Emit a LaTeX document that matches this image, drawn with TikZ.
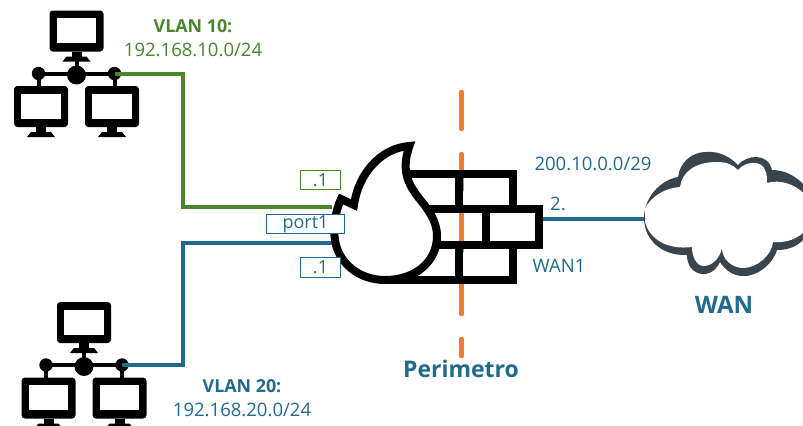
\documentclass[tikz,border=0pt]{standalone}
\usepackage{fontspec}
\setmainfont{Open Sans}
\definecolor{vgreen}{HTML}{4A852C}
\definecolor{vblue}{HTML}{1F6A8E}
\definecolor{vorange}{HTML}{ED7D31}
\definecolor{cloudc}{HTML}{3A444C}
\tikzset{
  x=0.75pt,y=-0.75pt,
  link/.style={line width=3pt,line join=miter},
  tag/.style={draw,fill=white,line width=0.9pt,inner sep=0pt,text=vblue,font=\fontsize{13.5}{15}\selectfont},
  lbl/.style={inner sep=0pt,font=\fontsize{13.9}{16}\selectfont},
  lblb/.style={inner sep=0pt,font=\fontsize{13.4}{16}\selectfont\bfseries},
  big/.style={inner sep=0pt,font=\fontsize{17.2}{20}\selectfont\bfseries,text=vblue},
  wall/.style={line width=6pt,line join=miter,draw=black},
  perim/.style={vorange,line width=3.4pt,line cap=round},
  hub/.style={circle,fill=black,inner sep=0pt,minimum size=14.2pt},
  dot/.style={circle,fill=black,inner sep=0pt,minimum size=10pt},
  icon/.pic={
    \foreach \mx/\my in {0/-43.5, -35.5/32, 35.5/32}{
      \fill[black,rounded corners=2.5pt] (\mx-27,\my-21) rectangle (\mx+27,\my+20);
      \fill[white] (\mx-19.7,\my-13.5) rectangle (\mx+19.7,\my+11.5);
      \fill[black] (\mx-5,\my+20) rectangle (\mx+5,\my+25);
      \fill[black] (\mx-10,\my+25) -- (\mx+10,\my+25) -- (\mx+14,\my+30) -- (\mx-14,\my+30) -- cycle;
    }
    \draw[black,line width=3pt] (0,-18) -- (0,0) (-38,-1.5) -- (38,-1.5) (-38,-1.5) -- (-38,12) (38,-1.5) -- (38,12);
    \node[hub] (-c) at (0,0) {};
    \node[dot] (-l) at (-38,-1.5) {};
    \node[dot] (-r) at (38,-1.5) {};
  }
}
\begin{document}
\begin{tikzpicture}
\useasboundingbox (0,0) rectangle (803,425);
\clip (0,0) rectangle (803,425);
% perimeter
\draw[perim] (461.5,92) -- (461.5,129);
\draw[perim] (461.5,154) -- (461.5,190);
\draw[perim] (461.5,214) -- (461.5,251);
\draw[perim] (461.5,277) -- (461.5,314);
\draw[perim] (461.5,339) -- (461.5,356);
% hosts
\pic (h1) at (76.5,75) {icon};
\pic (h2) at (84,366.5) {icon};
% anchor points
\coordinate (fwa) at (332,207);
\coordinate (fwb) at (332,243);
\coordinate (g1) at (183,207);
\coordinate (g2) at (183,243);
\coordinate (fwc) at (541,219);
\coordinate (cl) at (646,219);
% links
\draw[link,vgreen] (h1-r.center) -| (g1) -- (fwa);
\draw[link,vblue] (h2-r.center) -| (g2) -- (fwb);
\draw[vblue,line width=2.4pt] (fwc) -- (cl);
% bricks
\draw[wall] (404,174) -- (513,174) -- (513,209);
\draw[wall] (424,209) -- (539,209) -- (539,245) -- (424,245);
\draw[wall] (513,245) -- (513,280) -- (385,280);
\draw[wall] (459,174) -- (459,209) (459,245) -- (459,280) (486,209) -- (486,245);
% flame
\draw[wall,fill=white,miter limit=6]
  (409.5,146)
  .. controls (380,148) and (358,175) .. (354,205)
  -- (341,199)
  .. controls (335,212) and (333,228) .. (335,240)
  .. controls (338,262) and (358,280) .. (385,280)
  .. controls (415,280) and (437,262) .. (437,236)
  .. controls (437,220) and (427,208) .. (418,197)
  .. controls (410,186) and (400,172) .. (409.5,146) -- cycle;
% cloud
\fill[cloudc]
  (644,218)
  .. controls (644,198) and (660,180) .. (678,177)
  .. controls (680,162) and (692,152) .. (706,152)
  .. controls (720,151) and (730,157) .. (738,165)
  .. controls (746,155) and (768,152) .. (772,170)
  .. controls (785,170) and (798,176) .. (810,192)
  -- (810,232)
  .. controls (800,246) and (790,250) .. (777,250)
  .. controls (772,266) and (755,277) .. (743,276)
  .. controls (733,276) and (725,270) .. (720,262)
  .. controls (715,273) and (705,276) .. (698,273)
  .. controls (690,270) and (687,263) .. (687,255)
  .. controls (662,256) and (644,240) .. (644,218) -- cycle;
\fill[white]
  (645,208)
  .. controls (652,196) and (665,188) .. (680,187)
  .. controls (682,172) and (695,162) .. (717,162)
  .. controls (727,162) and (733,165) .. (738,170)
  .. controls (745,161) and (762,160) .. (765,170)
  .. controls (767,174) and (767,178) .. (767,183)
  .. controls (780,179) and (797,184) .. (808,198)
  -- (808,228)
  .. controls (798,240) and (785,243) .. (773,242)
  .. controls (772,255) and (757,268) .. (743,268)
  .. controls (733,268) and (722,260) .. (722,248)
  .. controls (720,258) and (712,266) .. (704,266)
  .. controls (696,266) and (692,256) .. (692,247)
  .. controls (668,250) and (650,240) .. (645,222) -- cycle;
% tags
\node[tag,draw=vgreen,minimum width=29.5pt,minimum height=14.7pt] (t1) at (320.5,180) {.1};
\node[tag,draw=vblue,minimum width=58.5pt,minimum height=14.3pt] (t2) at (305.5,224) {port1};
\node[tag,draw=vblue,minimum width=29.5pt,minimum height=14.7pt] (t3) at (320.5,267.5) {.1};
% labels
\node[lblb,text=vgreen] (v1) at (193,26) {VLAN 10:};
\node[lbl,text=vgreen] (n1) at (193,50) {192.168.10.0/24};
\node[lblb,text=vblue] (v2) at (242,386) {VLAN 20:};
\node[lbl,text=vblue] (n2) at (242,410) {192.168.20.0/24};
\node[lbl,text=vblue] (n3) at (593,164) {200.10.0.0/29};
\node[lbl,text=vblue] (n4) at (558,204) {2.};
\node[lbl,text=vblue] (n5) at (559,266) {WAN1};
\node[big,font=\fontsize{18}{20}\selectfont\bfseries] (wan) at (724,305) {WAN};
\node[big] (per) at (461,369) {Perimetro};
\end{tikzpicture}
\end{document}
